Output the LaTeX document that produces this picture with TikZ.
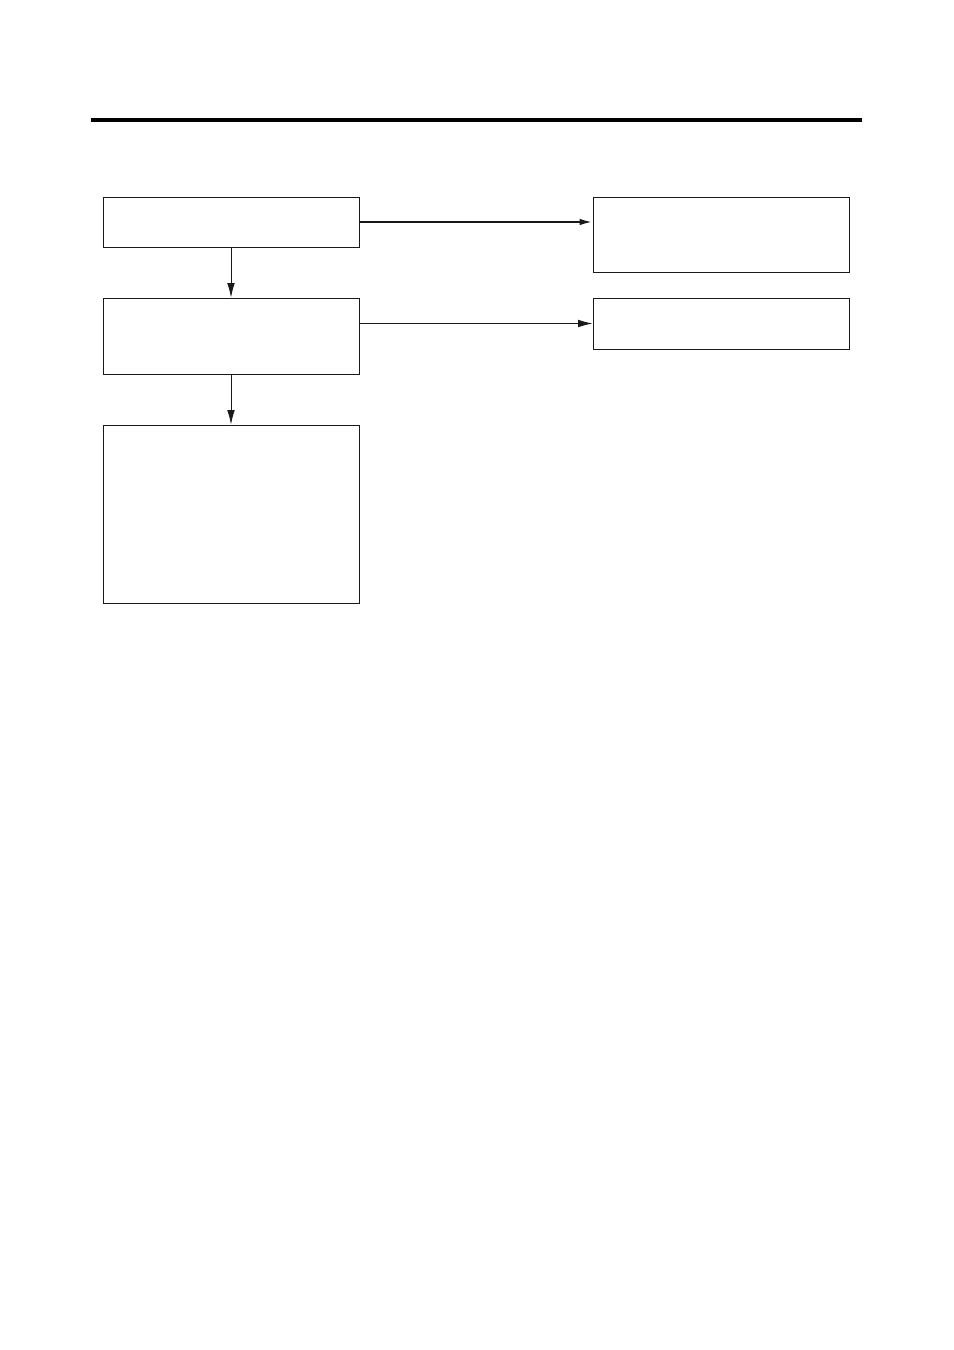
\documentclass[tikz,border=0pt]{standalone}
\usetikzlibrary{
  positioning,
  arrows.meta
}

\begin{document}
\begin{tikzpicture}[
    >={Latex[length=3.6mm,width=1.9mm]},
    % Box styles
    box/.style={
        rectangle, draw=black!90, line width=0.7pt,
        minimum width=6.4cm, inner sep=0pt, fill=white
    },
    % Arrow styles
    arr/.style={->, line width=0.6pt, draw=black!90},
    thickarr/.style={->, line width=1.4pt, draw=black!90},
    rule/.style={line width=2.2pt, draw=black}
]

% ==========================================
% PAGE FRAME
% ==========================================
\useasboundingbox (0, 0) rectangle (23.85, -33.75);

% --- Header rule ---
\coordinate (rule_l) at (2.275, -3.0);
\coordinate (rule_r) at (21.55, -3.0);
\draw[rule] (rule_l) -- (rule_r);

% ==========================================
% NODES & PLACEMENT
% ==========================================

% --- Left column ---
\node[box, minimum height=1.25cm] (first) at (5.775, -5.55) {};
\node[box, minimum height=1.9cm] (second) at (5.775, -8.4) {};
\node[box, minimum height=4.45cm] (third) at (5.775, -12.85) {};

% --- Right column ---
\node[box, minimum height=1.875cm] (upper) at (18.025, -5.8625) {};
\node[box, minimum height=1.275cm] (lower) at (18.025, -8.0875) {};

% ==========================================
% ROUTING & ARROWS
% ==========================================

% 1. Down the left column
\draw[arr] (first.south) -- (second.north);
\draw[arr] (second.south) -- (third.north);

% 2. Across to the right column
\draw[thickarr, >={Latex[length=3.2mm,width=1.6mm]}] (first.east) -- (first.east -| upper.west);
\draw[arr] (second.east |- lower.west) -- (lower.west);

\end{tikzpicture}
\end{document}
